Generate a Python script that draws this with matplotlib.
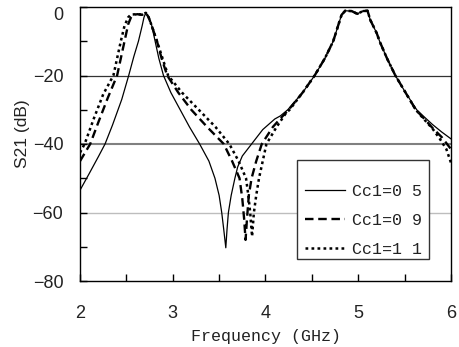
import matplotlib
matplotlib.use("Agg")
import matplotlib.pyplot as plt
from matplotlib.patches import Rectangle

# ---- data (frequency in GHz, S21 in dB) ----
freq_05 = [2.00, 2.10, 2.20, 2.27, 2.35, 2.45, 2.525, 2.58, 2.63, 2.67, 2.69, 2.71,
           2.74, 2.77, 2.81, 2.85, 2.90, 2.98, 3.08, 3.18, 3.29, 3.39, 3.455, 3.50,
           3.528, 3.55, 3.572, 3.585, 3.60, 3.63, 3.67, 3.70, 3.75, 3.85, 3.97, 4.10,
           4.16, 4.24, 4.40, 4.53, 4.64, 4.73, 4.78, 4.82, 4.86, 4.93, 4.99, 5.05,
           5.10, 5.13, 5.20, 5.23, 5.31, 5.40, 5.51, 5.63, 5.70, 5.80, 5.90, 6.00]
s21_05 = [-53.5, -48.6, -43.6, -40.0, -34.5, -27.0, -20.0, -14.5, -10.0, -5.5, -3.0, -1.7,
          -3.0, -5.0, -10.0, -15.0, -20.0, -25.0, -30.0, -35.0, -40.0, -45.0, -50.0, -55.0,
          -60.0, -65.0, -70.3, -65.0, -60.0, -55.0, -50.0, -46.7, -43.5, -40.0, -35.8, -32.7,
          -31.8, -30.0, -25.0, -20.0, -15.0, -10.0, -5.7, -2.3, -1.1, -1.2, -2.0, -1.2,
          -1.1, -3.8, -7.7, -10.0, -15.0, -20.0, -25.0, -30.0, -31.8, -34.3, -36.5, -38.5]

freq_09 = [2.00, 2.11, 2.20, 2.30, 2.40, 2.44, 2.48, 2.52, 2.55, 2.57, 2.62, 2.67, 2.71,
           2.74, 2.78, 2.83, 2.88, 2.94, 3.06, 3.20, 3.37, 3.55, 3.64, 3.72, 3.75,
           3.77, 3.785, 3.80, 3.82, 3.85, 3.90, 3.96, 4.08, 4.18, 4.25, 4.40, 4.53,
           4.64, 4.73, 4.78, 4.82, 4.86, 4.93, 4.99, 5.05, 5.10, 5.13, 5.20, 5.23,
           5.31, 5.40, 5.51, 5.62, 5.70, 5.80, 5.90, 6.00]
s21_09 = [-45.0, -40.0, -33.5, -26.5, -20.0, -15.0, -10.0, -5.0, -3.0, -2.3, -2.1, -2.3, -1.7,
          -3.0, -6.0, -10.0, -15.0, -20.0, -25.0, -30.0, -35.0, -40.0, -45.0, -50.0, -56.0,
          -62.0, -68.0, -62.0, -55.0, -50.0, -45.0, -40.0, -35.0, -32.0, -30.0, -25.0, -20.0,
          -15.0, -10.0, -5.7, -2.3, -1.1, -1.2, -2.0, -1.2, -1.1, -3.8, -7.7, -10.0,
          -15.0, -20.0, -25.0, -30.0, -32.3, -35.3, -38.0, -41.5]

freq_11 = [2.00, 2.05, 2.15, 2.25, 2.36, 2.40, 2.44, 2.48, 2.52, 2.55, 2.62, 2.67, 2.71,
           2.74, 2.78, 2.83, 2.89, 2.95, 3.10, 3.28, 3.46, 3.61, 3.71, 3.79, 3.815,
           3.835, 3.855, 3.875, 3.90, 3.93, 3.97, 4.01, 4.12, 4.22, 4.26, 4.40, 4.53,
           4.64, 4.73, 4.78, 4.82, 4.86, 4.93, 4.99, 5.05, 5.10, 5.13, 5.20, 5.23,
           5.31, 5.40, 5.51, 5.62, 5.70, 5.80, 5.88, 5.95, 6.00]
s21_11 = [-42.5, -40.0, -32.5, -25.5, -20.0, -15.0, -10.0, -5.5, -3.0, -2.2, -2.1, -2.2, -1.7,
          -3.0, -6.0, -10.0, -15.0, -20.0, -25.0, -30.0, -35.0, -40.0, -45.0, -50.0, -55.0,
          -60.0, -67.0, -60.0, -55.0, -50.0, -45.0, -40.0, -35.0, -31.0, -30.0, -25.0, -20.0,
          -15.0, -10.0, -5.7, -2.3, -1.1, -1.2, -2.0, -1.2, -1.1, -3.8, -7.7, -10.0,
          -15.0, -20.0, -25.0, -30.0, -32.5, -35.5, -38.5, -41.5, -45.5]

labels = ["Cc1=0 5", "Cc1=0 9", "Cc1=1 1"]
x_ticks = [2, 3, 4, 5, 6]
y_ticks = [0, -20, -40, -60, -80]

# ---- figure ----
fig = plt.figure(figsize=(4.6, 3.47), dpi=100)
ax = fig.add_axes([80 / 460, 1 - 281 / 347, 371 / 460, 274 / 347])

# horizontal reference lines
ax.axhline(-20, color="#333333", lw=0.9, zorder=1)
ax.axhline(-40, color="#808080", lw=1.5, zorder=1)
ax.axhline(-60, color="#bdbdbd", lw=1.0, zorder=1)

l1, = ax.plot(freq_05, s21_05, color="black", lw=0.9, ls="-", zorder=3)
l2, = ax.plot(freq_09, s21_09, color="black", lw=1.7, ls=(0, (3.6, 2.0)), zorder=3)
l3, = ax.plot(freq_11, s21_11, color="black", lw=1.8, ls=(0, (1.1, 1.3)), zorder=3)

ax.set_xlim(2, 6)
ax.set_ylim(-80, 0)

tick_font = {"family": "Liberation Sans", "size": 13}
ax.set_xticks(x_ticks)
ax.set_xticklabels([str(v) for v in x_ticks], fontdict=tick_font)
ax.set_xticks([2.5, 3.5, 4.5, 5.5], minor=True)
ax.set_yticks(y_ticks)
ax.set_yticklabels(["0" if v == 0 else "\u2212" + str(-v) for v in y_ticks], fontdict=tick_font)
ax.set_yticks([-10, -30, -50, -70], minor=True)
ax.tick_params(axis="both", which="both", direction="in", length=5, width=1.0,
               top=False, right=False, colors="black")
ax.tick_params(axis="x", which="both", pad=17)
ax.tick_params(axis="y", which="both", pad=12)
for lab in ax.get_yticklabels():
    lab.set_color("#222222")
    if lab.get_text() == "0":
        lab.set_verticalalignment("top")
for lab in ax.get_xticklabels():
    lab.set_color("#222222")

for sp in ax.spines.values():
    sp.set_linewidth(1.0)
    sp.set_color("black")

fig.text(266 / 460, 1 - 336 / 347, "Frequency (GHz)", family="Liberation Mono",
         size=12, ha="center", va="center", color="#222222")
fig.text(23 / 460, 1 - 134 / 347, "S21 (dB)", family="Liberation Sans",
         size=12.5, ha="center", va="center", rotation=90, color="#222222")

# legend box
rect = Rectangle((217 / 371, 22 / 274), 132 / 371, 99 / 274, transform=ax.transAxes,
                 facecolor="white", edgecolor="#333333", lw=1.0, zorder=5)
ax.add_patch(rect)
leg = ax.legend([l1, l2, l3], labels, loc="lower right",
                bbox_to_anchor=(342 / 371, 24 / 274), frameon=False,
                prop={"family": "Liberation Mono", "size": 12},
                handlelength=2.4, handletextpad=0.4, labelspacing=0.85,
                borderpad=0.0, borderaxespad=0.0)
leg.set_zorder(6)
for t in leg.get_texts():
    t.set_color("#222222")

fig.savefig("out.png", dpi=100)
